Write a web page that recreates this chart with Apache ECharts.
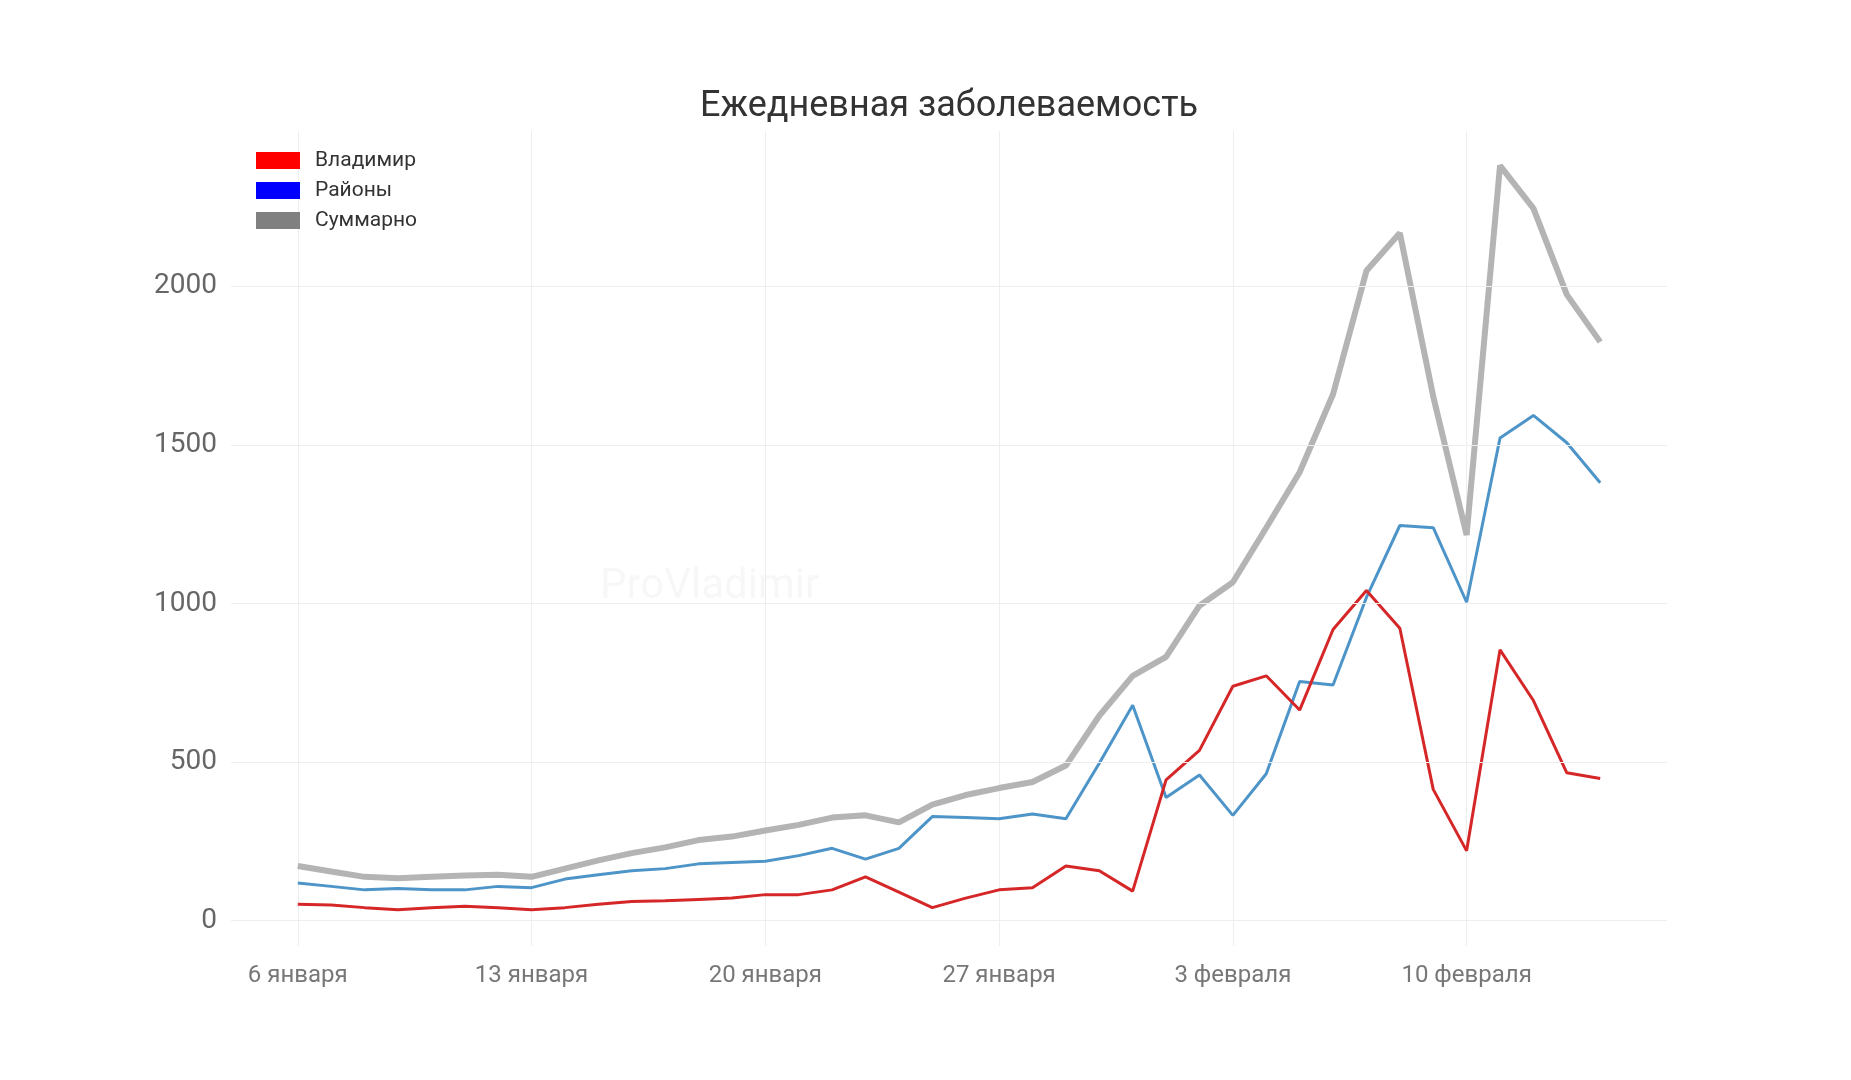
<!DOCTYPE html>
<html><head><meta charset="utf-8">
<script src="https://cdn.jsdelivr.net/npm/echarts@6/dist/echarts.min.js"></script>
<style>html,body{margin:0;padding:0;background:#fff}#c{width:1851px;height:1080px}</style>
</head><body><div id="c"></div>
<script>
const dates = ['6 января','7 января','8 января','9 января','10 января','11 января','12 января','13 января','14 января','15 января','16 января','17 января','18 января','19 января','20 января','21 января','22 января','23 января','24 января','25 января','26 января','27 января','28 января','29 января','30 января','31 января','1 февраля','2 февраля','3 февраля','4 февраля','5 февраля','6 февраля','7 февраля','8 февраля','9 февраля','10 февраля','11 февраля','12 февраля','13 февраля','14 февраля'];
const vladimir = [52,49,41,34,41,45,41,34,41,52,60,63,67,71,82,82,97,138,90,41,71,97,104,172,157,93,444,537,739,772,664,918,1041,922,414,220,854,694,466,448];
const rayony = [119,108,97,101,97,97,108,104,131,145,157,164,179,183,187,205,228,194,228,328,325,321,336,321,496,679,388,459,332,463,754,743,1019,1246,1239,1004,1522,1593,1507,1381];
const summarno = [172,155,138,134,138,142,145,138,164,190,213,231,254,265,284,302,325,332,310,366,396,418,437,489,646,772,832,993,1067,1239,1414,1660,2049,2168,1653,1216,2381,2246,1974,1825];
const yTicks = [0,500,1000,1500,2000];
const labelEvery = 7;

const pad = 2;
const cats = [...Array(pad).fill(''), ...dates, ...Array(pad).fill('')];
const padArr = a => [...Array(pad).fill(null), ...a, ...Array(pad).fill(null)];
const isLabel = i => i >= pad && (i - pad) % labelEvery === 0 && i < pad + dates.length;

const chart = echarts.init(document.getElementById('c'));
chart.setOption({
  animation:false,
  backgroundColor:'#fff',
  title:{text:'Ежедневная заболеваемость',left:944,textAlign:'center',top:84,textStyle:{fontFamily:'Roboto',fontSize:36,fontWeight:'normal',color:'#333'}},
  graphic:[{type:'text',left:600,top:566,style:{text:'ProVladimir',fontSize:42,fontFamily:'Roboto',fill:'rgba(0,0,0,0.03)'}}],
  legend:{orient:'vertical',left:251,top:145,itemWidth:44,itemHeight:17,itemGap:9,icon:'rect',
    textStyle:{fontFamily:'Roboto',fontSize:21,color:'#333',padding:[0,0,0,10]},
    data:[{name:'Владимир',itemStyle:{color:'#ff0000'}},{name:'Районы',itemStyle:{color:'#0000ff'}},{name:'Суммарно',itemStyle:{color:'#808080'}}]},
  grid:{left:231,right:184,top:131,bottom:134},
  xAxis:{type:'category',data:cats,boundaryGap:false,
    axisLine:{show:false},axisTick:{show:false},
    axisLabel:{interval:(i)=>isLabel(i),margin:18,fontFamily:'Roboto',fontSize:24,color:'#777'},
    splitLine:{show:true,interval:(i)=>isLabel(i),lineStyle:{color:'#eeeeee',width:1}}},
  yAxis:{type:'value',min:-80,max:2490,
    axisLine:{show:false},axisTick:{show:false},splitLine:{show:false},
    axisLabel:{customValues:yTicks,formatter:v=>String(v),margin:14,fontFamily:'Roboto',fontSize:28,color:'#666'}},
  series:[
    {name:'Суммарно',type:'line',data:padArr(summarno),symbol:'none',z:1,lineStyle:{color:'#b4b4b4',width:6},itemStyle:{color:'#b4b4b4'},
      markLine:{silent:true,symbol:'none',label:{show:false},lineStyle:{color:'#eeeeee',width:1,type:'solid'},data:yTicks.map(v=>({yAxis:v}))}},
    {name:'Районы',type:'line',data:padArr(rayony),symbol:'none',z:2,lineStyle:{color:'#4d94c8',width:3},itemStyle:{color:'#4d94c8'}},
    {name:'Владимир',type:'line',data:padArr(vladimir),symbol:'none',z:3,lineStyle:{color:'#d62728',width:3},itemStyle:{color:'#d62728'}}
  ]
});
</script></body></html>
